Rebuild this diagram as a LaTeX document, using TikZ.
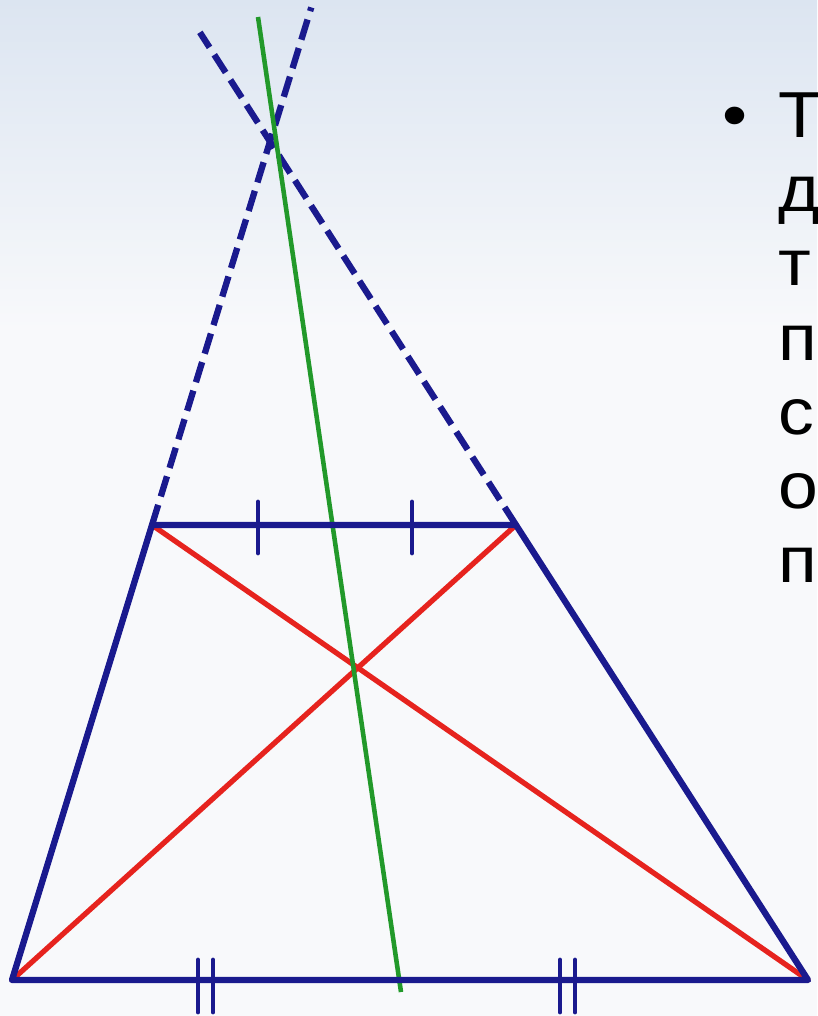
\documentclass[tikz,border=0pt]{standalone}
\usepackage{fontspec}
\setmainfont{Liberation Sans}
\newfontfamily\slidefont[FakeStretch=1.1]{Liberation Sans}
\usetikzlibrary{calc,positioning,intersections}
\definecolor{Navy}{HTML}{1A1A8E}
\definecolor{RedLine}{HTML}{E6231E}
\definecolor{GreenLine}{HTML}{22992A}
\definecolor{SkyTop}{HTML}{DCE5F1}
\definecolor{Paper}{HTML}{F8F9FB}
\tikzset{
  side/.style={draw=Navy,line width=3.6pt,line cap=round,line join=round},
  sidedash/.style={draw=Navy,line width=3.6pt,dash pattern=on 12pt off 5pt},
  diag/.style={draw=RedLine,line width=3pt,line cap=round},
  median/.style={draw=GreenLine,line width=2.6pt},
  tickmark/.style={draw=Navy,line width=2.8pt,line cap=round},
  word/.style={inner sep=0pt,anchor=base west,font=\slidefont\fontsize{37pt}{42pt}\selectfont,text=black}
}
\begin{document}
\begin{tikzpicture}[x=0.02cm,y=-0.02cm]
\useasboundingbox (0,0) rectangle (817,1016);
% background
\fill[top color=SkyTop,bottom color=Paper] (0,0) rectangle (817,330);
\fill[Paper] (0,330) rectangle (817,1016);
% trapezoid vertices
\coordinate (A) at (12,980);
\coordinate (B) at (152,525);
\coordinate (C) at (516,525);
\coordinate (D) at (808,980);
\coordinate (P) at (intersection of A--B and D--C);
\coordinate (O) at (intersection of A--C and B--D);
\coordinate (gtop) at (258,17);
\coordinate (gbot) at (401,992);
% dashed extensions of the legs
\draw[sidedash] (B) -- ($(B)!1.35!(P)$);
\draw[sidedash] (C) -- ($(C)!1.285!(P)$);
% diagonals
\draw[diag] (A) -- (C);
\draw[diag] (B) -- (D);
% line through P and O
\draw[median] (gtop) -- (gbot);
% sides
\draw[side] (A) -- (B) -- (C) -- (D) -- cycle;
% equal halves
\foreach \x in {258,412}
  \draw[tickmark] (\x,502) -- (\x,553);
\foreach \x in {198,213,560,575}
  \draw[tickmark] (\x,960) -- (\x,1012);
% text
\begin{scope}
\clip (0,0) rectangle (817,1016);
\node[word] (dot) at (722,138) {•};
\foreach \ch [count=\i] in {Т,д,т,п,с,о,п}
  \node[word] (w\i) at (778,{138+74*(\i-1)}) {\ch};
\end{scope}
\end{tikzpicture}
\end{document}
